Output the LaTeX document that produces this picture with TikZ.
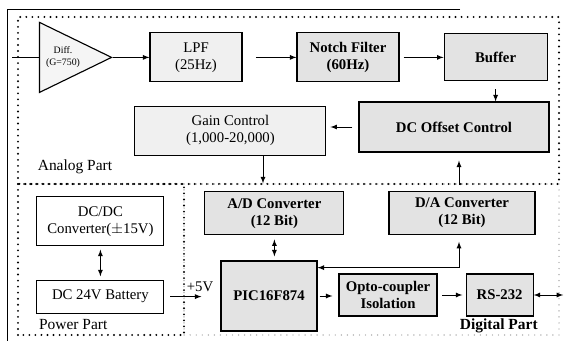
\documentclass[tikz,border=0pt]{standalone}
\usepackage{fontspec}
\setmainfont{Liberation Serif}
\usetikzlibrary{arrows,shapes}

\begin{document}
\begin{tikzpicture}[
  blk/.style={draw,line width=0.8pt,fill=black!6,align=center,inner sep=0pt,font=\fontsize{10.5}{12}\selectfont},
  blkd/.style={blk,fill=black!11,font=\fontsize{10.5}{12}\selectfont\bfseries},
  blkw/.style={blk,fill=white},
  arr/.style={line width=0.6pt,-latex},
  darr/.style={line width=0.6pt,latex-latex},
  bigdots/.style={line width=1.5pt,line cap=round,dash pattern=on 0pt off 4.3pt},
  smalldots/.style={line width=1pt,line cap=round,dash pattern=on 0pt off 4.3pt,color=black!40}]
\useasboundingbox (0,0) rectangle (14.15,8.525);

%%% FRAME AND PARTS
\path[draw,line width=0.6pt] (11.5,8.3) -- (0.175,8.3) -- (0.175,0);
\path[draw,smalldots] (4.6,0.15) rectangle (13.975,3.925);
\path[draw,bigdots] (0.45,0.15) rectangle (4.6,3.925);
\path[draw,bigdots] (0.45,3.925) rectangle (13.975,8.1);
\path (1.875,4.35) node[font=\fontsize{11}{13}\selectfont] (nodeAnalog) {Analog Part};
\path (1.83,0.4) node[font=\fontsize{11}{13}\selectfont] (nodePower) {Power Part};
\path (12.47,0.38) node[font=\fontsize{11}{13}\selectfont\bfseries] (nodeDigital) {Digital Part};

%%% ANALOG PART
\coordinate (nodeIn) at (0.3,7.09);
\path (2.825,7.09) node[draw,line width=0.8pt,fill=black!4,isosceles triangle,isosceles triangle stretches,
  minimum width=1.75cm,minimum height=1.8cm,inner sep=0pt,anchor=apex] (nodeDiff) {};
\path (1.575,7.1) node[font=\fontsize{7}{8}\selectfont,align=center] (nodeDiffText) {Diff.\\(G=750)};
\path (4.9,7.09) node[blk,minimum width=2.3cm,minimum height=1.225cm] (nodeLPF) {LPF\\(25Hz)};
\path (8.7,7.09) node[blkd,minimum width=2.55cm,minimum height=1.225cm] (nodeNotch) {Notch Filter\\(60Hz)};
\path (12.39,7.09) node[blkd,minimum width=2.575cm,minimum height=1.175cm] (nodeBuffer) {Buffer};
\path (11.35,5.35) node[blkd,minimum width=4.75cm,minimum height=1.25cm] (nodeDCO) {DC Offset Control};
\path (5.76,5.26) node[blk,minimum width=4.775cm,minimum height=1.225cm] (nodeGain) {Gain Control\\(1,000-20,000)};
\path[draw,line width=0.6pt] (nodeIn) -- (nodeDiff.lower side);
\path[draw,arr] (nodeDiff.apex) -- (nodeLPF.west);
\path[draw,arr,shorten <=0.33cm] (nodeLPF.east) -- (nodeNotch.west);
\path[draw,arr,shorten <=0.1cm] (nodeNotch.east) -- (nodeBuffer.west);
\path[draw,arr,shorten <=0.2cm] (nodeBuffer.south) -- (nodeBuffer.south |- nodeDCO.north);
\path[draw,arr,shorten <=0.15cm,shorten >=0.1cm] (nodeDCO.west) -- (nodeDCO.west -| nodeGain.east);

%%% POWER PART
\path (2.51,2.99) node[blkw,minimum width=3.175cm,minimum height=1.225cm] (nodeDCDC) {DC/DC\\Converter($\pm$15V)};
\path (2.51,1.11) node[blkw,minimum width=3.175cm,minimum height=0.825cm] (nodeBat) {DC 24V Battery};
\path[draw,darr,shorten <=0.08cm,shorten >=0.08cm] (nodeDCDC.south) -- (nodeBat.north);

%%% DIGITAL PART
\path (6.86,3.19) node[blkd,minimum width=3.475cm,minimum height=1.075cm] (nodeAD) {A/D Converter\\(12 Bit)};
\path (11.55,3.21) node[blkd,minimum width=3.65cm,minimum height=1.075cm] (nodeDA) {D/A Converter\\(12 Bit)};
\path (6.725,1.125) node[blkd,minimum width=2.4cm,minimum height=1.75cm] (nodePIC) {PIC16F874};
\path (9.7,1.15) node[blkd,minimum width=2.45cm,minimum height=1.05cm] (nodeOpto) {Opto-coupler\\Isolation};
\path (12.49,1.15) node[blkd,minimum width=1.675cm,minimum height=1.05cm] (nodeRS) {RS-232};
\path (5.0,1.36) node[font=\fontsize{10.5}{12}\selectfont] (nodeFive) {+5V};
\coordinate (nodeOut) at (14.08,1.15);
\path[draw,arr,shorten >=0.2cm] ([xshift=0.815cm]nodeGain.south) -- ([xshift=0.815cm]nodeGain.south |- nodeAD.north);
\path[draw,arr,shorten <=0.15cm,shorten >=0.2cm] ([xshift=-0.075cm]nodeDA.north) -- ([xshift=-0.075cm]nodeDA.north |- nodeDCO.south);
\path[draw,darr,shorten <=0.1cm,shorten >=0.1cm] (nodeAD.south) -- (nodeAD.south |- nodePIC.north);
\path[draw,darr,shorten <=0.18cm] ([xshift=-0.075cm]nodeDA.south) |- ([yshift=-0.18cm]nodePIC.north east);
\path[draw,arr,shorten <=0.15cm,shorten >=0.475cm] (nodeBat.east) -- (nodeBat.east -| nodePIC.west);
\path[draw,arr,shorten <=0.05cm,shorten >=0.15cm] (nodePIC.east) -- (nodePIC.east -| nodeOpto.west);
\path[draw,arr,shorten <=0.12cm,shorten >=0.08cm] (nodeOpto.east) -- (nodeRS.west);
\path[draw,darr] (nodeRS.east) -- (nodeOut);
\end{tikzpicture}
\end{document}
